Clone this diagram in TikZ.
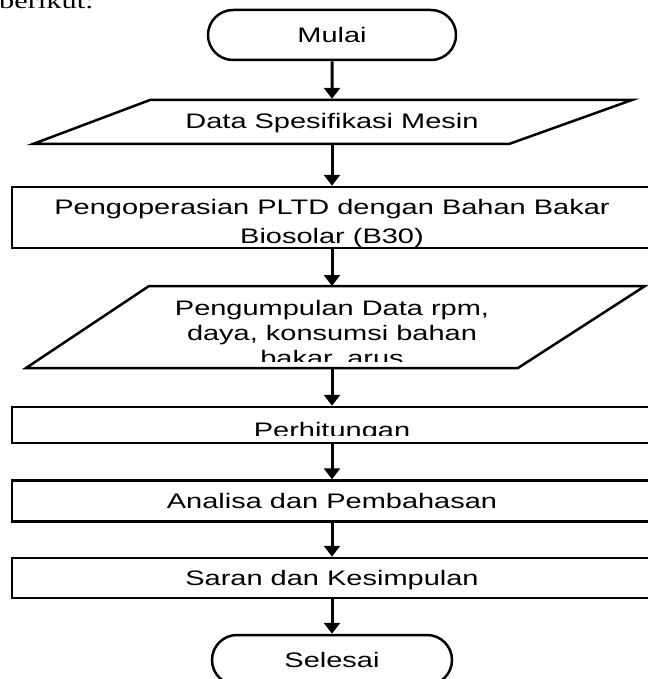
\documentclass[tikz,border=0pt]{standalone}
\usepackage{fontspec}
\newfontfamily\fontsans[FakeStretch=1.38]{Liberation Sans}
\newfontfamily\fontserif[FakeStretch=1.38]{Liberation Serif}
\usetikzlibrary{arrows.meta, shapes.misc}

\begin{document}
\begin{tikzpicture}[x=1pt, y=-1pt,
  every node/.style={font=\fontsans\fontsize{21pt}{25pt}\selectfont, inner sep=0pt},
  garis/.style={draw, line width=2.5pt},
  terminal/.style={garis, rounded rectangle, minimum height=50pt,
    text height=15pt, text depth=0pt},
  proses/.style={garis, minimum width=640pt, minimum height=#1, align=center},
  proses/.default={41pt},
  satubaris/.style={text height=15pt, text depth=0pt},
  panah/.style={-{Triangle[length=11pt, width=16pt]}, line width=3pt}
]
  \useasboundingbox (0,0) rectangle (647,679);

  % Sisa teks halaman
  \node[font=\fontserif\fontsize{22pt}{26pt}\selectfont, anchor=base west] (berikut) at (-1,8.5) {berikut:};

  % Mulai
  \node[terminal, minimum width=248pt] (mulai) at (332,35) {Mulai};

  % Data spesifikasi mesin
  \draw[garis] (150,100) -- (632,100) -- (509,144) -- (33,144) -- cycle;
  \node[minimum height=44pt, satubaris] (data) at (332,121) {Data Spesifikasi Mesin};

  % Pengoperasian PLTD
  \node[proses=61pt] (operasi) at (332,217.5) {};
  \node[align=center, anchor=north, font=\fontsans\fontsize{21pt}{29pt}\selectfont] (operasiteks) at (332,199)
    {Pengoperasian PLTD dengan Bahan Bakar\\Biosolar (B30)};

  % Pengumpulan data
  \draw[garis] (149,286) -- (645,286) -- (518,368) -- (26,368) -- cycle;
  \coordinate (kumpulatas) at (332,286);
  \coordinate (kumpulbawah) at (332,368);
  \begin{scope}
    \clip (0,286) rectangle (647,361);
    \node[align=center, anchor=north] (kumpul) at (332,300)
      {Pengumpulan Data rpm,\\daya, konsumsi bahan\\bakar, arus};
  \end{scope}

  % Perhitungan
  \node[proses=36pt] (hitung) at (332,425) {};
  \begin{scope}
    \clip (0,407) rectangle (647,435);
    \node[anchor=base] (hitungteks) at (332,437) {Perhitungan};
  \end{scope}

  % Analisa, saran
  \node[proses, satubaris] (analisa) at (332,501) {Analisa dan Pembahasan};
  \node[proses=40pt, satubaris] (saran) at (332,578) {Saran dan Kesimpulan};

  % Selesai
  \node[terminal, minimum width=240pt] (selesai) at (332,660) {Selesai};

  % Panah alur
  \draw[panah] (mulai) -- (data);
  \draw[panah] (data) -- (operasi);
  \draw[panah] (operasi) -- (kumpulatas);
  \draw[panah] (kumpulbawah) -- (hitung);
  \draw[panah] (hitung) -- (analisa);
  \draw[panah] (analisa) -- (saran);
  \draw[panah] (saran) -- (selesai);
\end{tikzpicture}
\end{document}
